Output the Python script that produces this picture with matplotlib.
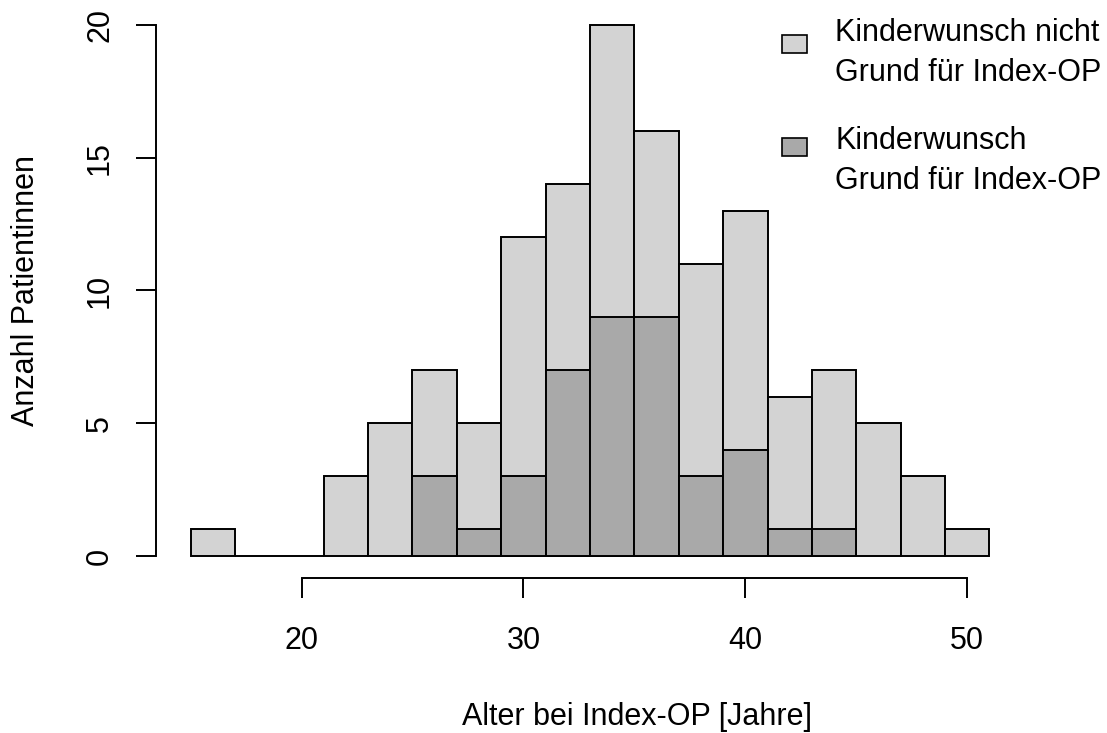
import numpy as np
import matplotlib.pyplot as plt
from matplotlib.patches import Rectangle

plt.rcParams['font.family'] = ['Liberation Sans', 'DejaVu Sans']

# Histogram bins (2-year classes) and counts
bin_edges = np.arange(15, 53, 2)
counts_all = [1, 0, 0, 3, 5, 7, 5, 12, 14, 20, 16, 11, 13, 6, 7, 5, 3, 1]
counts_kw = [0, 0, 0, 0, 0, 3, 1, 3, 7, 9, 9, 3, 4, 1, 1, 0, 0, 0]

x_ticks = [20, 30, 40, 50]
y_ticks = [0, 5, 10, 15, 20]
legend_labels = ['Kinderwunsch nicht\nGrund für Index-OP',
                 'Kinderwunsch\nGrund für Index-OP']
col_light = '#D3D3D3'
col_dark = '#A9A9A9'
fs = 22

W, H = 1107, 733
fig = plt.figure(figsize=(W / 100, H / 100), dpi=100)
# axes box in pixels: left 156, right 1024, top 3, bottom 578
ax = fig.add_axes([156 / W, (H - 578) / H, (1024 - 156) / W, (578 - 3) / H])

lefts = bin_edges[:-1]
ax.bar(lefts, counts_all, width=2, align='edge', color=col_light,
       edgecolor='black', linewidth=1.4)
kw = np.array(counts_kw)
mask = kw > 0
ax.bar(lefts[mask], kw[mask], width=2, align='edge', color=col_dark,
       edgecolor='black', linewidth=1.4)

ax.set_xlim(13.44, 52.56)
ax.set_ylim(-0.83, 20.83)

for s in ['top', 'right']:
    ax.spines[s].set_visible(False)
ax.spines['left'].set_bounds(0, 20)
ax.spines['bottom'].set_bounds(20, 50)
ax.spines['left'].set_linewidth(1.4)
ax.spines['bottom'].set_linewidth(1.4)

ax.set_xticks(x_ticks)
ax.set_yticks(y_ticks)
ax.tick_params(axis='both', direction='out', length=14.5, width=1.4,
               labelsize=fs)
ax.tick_params(axis='x', pad=20)
ax.tick_params(axis='y', pad=15)
for lab in ax.get_yticklabels():
    lab.set_rotation(90)
    lab.set_va('center')

ax.set_xlabel('Alter bei Index-OP [Jahre]', fontsize=fs)
ax.xaxis.set_label_coords((636.5 - 156) / 868, -124 / 575)
ax.set_ylabel('Anzahl Patientinnen', fontsize=fs)
ax.yaxis.set_label_coords((41 - 156) / 868, 0.5)

# legend drawn by hand like R's legend()
box_y = [44, 147]
text_y = [53, 161]
for lab, col, by, ty in zip(legend_labels, [col_light, col_dark], box_y, text_y):
    fig.patches.append(Rectangle((782 / W, (H - by - 9) / H), 25 / W, 18 / H,
                                 transform=fig.transFigure, facecolor=col,
                                 edgecolor='black', linewidth=1.2))
    fig.text(835 / W, (H - ty) / H, lab, fontsize=fs, va='center',
             ha='left', linespacing=1.45)

fig.savefig('out.png', dpi=100)
